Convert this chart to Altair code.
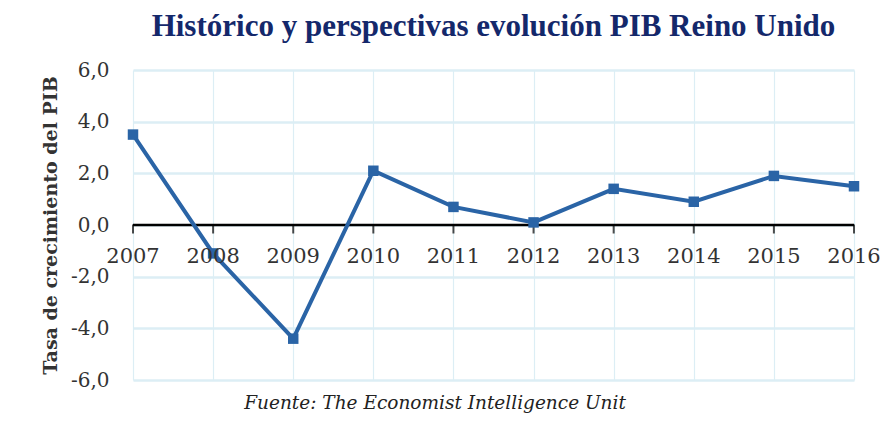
import altair as alt
import pandas as pd

years = [2007, 2008, 2009, 2010, 2011, 2012, 2013, 2014, 2015, 2016]
growth = [3.5, -1.1, -4.4, 2.1, 0.7, 0.1, 1.4, 0.9, 1.9, 1.5]
title_text = "Histórico y perspectivas evolución PIB Reino Unido"
y_title = "Tasa de crecimiento del PIB"
source_text = "Fuente: The Economist Intelligence Unit"

df = pd.DataFrame({"year": years, "growth": growth})

serif = "DejaVu Serif"
line_color = "#2A64A6"
grid_color = "#DCEEF5"

x_enc = alt.X("year:Q", scale=alt.Scale(domain=[2007, 2016], nice=False, zero=False),
              axis=alt.Axis(values=years, format="d", grid=True, gridColor=grid_color, gridWidth=1.2,
                            domain=False, ticks=False, labels=False, title=None))
y_enc = alt.Y("growth:Q", scale=alt.Scale(domain=[-6, 6], nice=False),
              axis=alt.Axis(values=[-6, -4, -2, 0, 2, 4, 6], gridColor=grid_color, gridWidth=2.5,
                            domain=False, ticks=False,
                            labelExpr="replace(replace(format(datum.value, '.1f'), '.', ','), '\u2212', '-')",
                            labelFont=serif, labelFontSize=20, labelColor="#333333", labelPadding=24,
                            title=y_title, titleFont=serif, titleFontSize=19, titleFontWeight="bold",
                            titleColor="#333333", titlePadding=10))

base = alt.Chart(df)

grid = base.mark_line(opacity=0).encode(x=x_enc, y=y_enc)

# zero axis with year labels
zero_df = pd.DataFrame({"year": years, "zero": [0] * len(years)})
zero_base = alt.Chart(zero_df)
zero_rule = zero_base.mark_rule(color="black", strokeWidth=2.5).encode(
    x=alt.X("min(year):Q"), x2=alt.X2("max(year):Q"), y=alt.Y("mean(zero):Q"))
zero_ticks = zero_base.mark_tick(color="black", orient="vertical", size=9, thickness=2, yOffset=4).encode(
    x="year:Q", y="zero:Q")
zero_labels = zero_base.mark_text(font=serif, fontSize=21, color="#333333", baseline="top", dy=21).encode(
    x="year:Q", y="zero:Q", text=alt.Text("year:Q", format="d"))

line = base.mark_line(color=line_color, strokeWidth=4).encode(x="year:Q", y="growth:Q")
points = base.mark_square(color=line_color, size=110, opacity=1).encode(x="year:Q", y="growth:Q")

source = alt.Chart(pd.DataFrame({"t": [source_text]})).mark_text(
    font=serif, fontStyle="italic", fontSize=18.5, color="#222222", align="center", baseline="middle"
).encode(x=alt.value(302), y=alt.value(333), text="t:N")

chart = alt.layer(grid, zero_rule, zero_ticks, line, points, zero_labels, source).properties(
    width=721, height=310,
    padding={"left": 125, "top": 62, "right": 29, "bottom": 34},
    autosize=alt.AutoSizeParams(type="none"),
    title=alt.TitleParams(title_text, font="Liberation Serif", fontSize=31, fontWeight="bold",
                          color="#14286B", anchor="middle", offset=17),
).configure_view(stroke=None)

chart.save("out.html", embed_options={"renderer": "svg", "actions": False})
